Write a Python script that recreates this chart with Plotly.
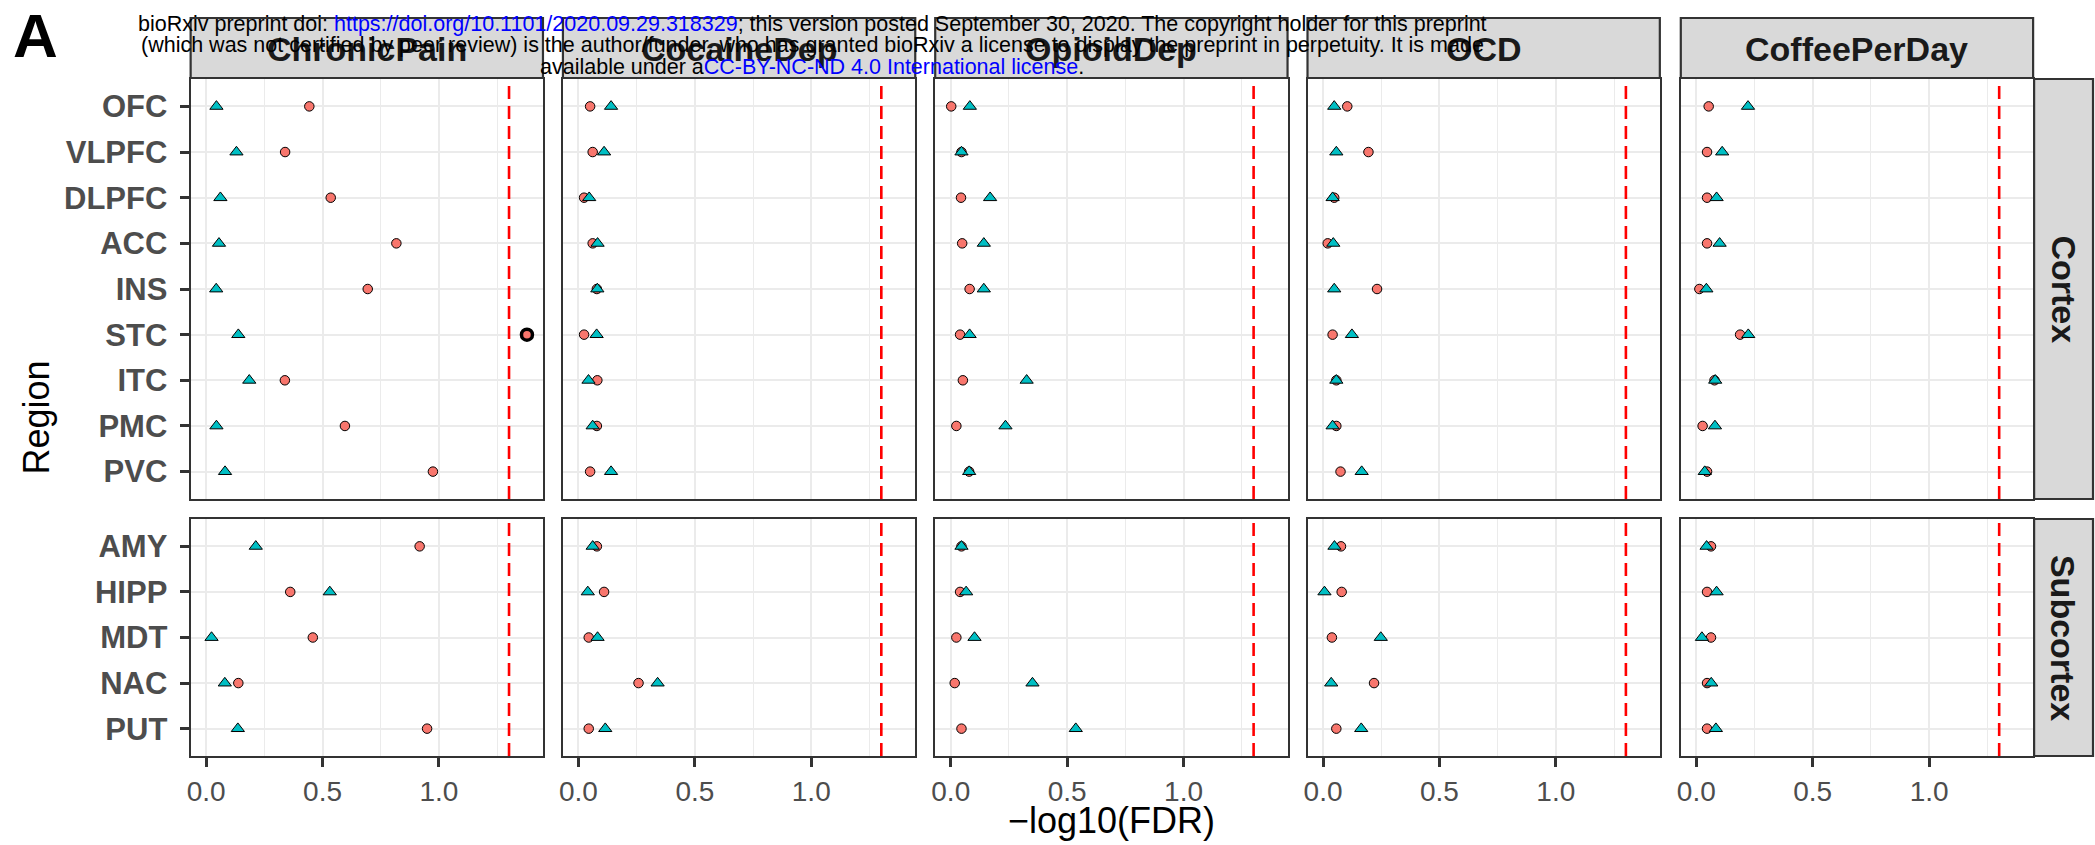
import math
import plotly.graph_objects as go

# ---------------- data ----------------
regions = ["OFC", "VLPFC", "DLPFC", "ACC", "INS", "STC", "ITC", "PMC", "PVC",
           "AMY", "HIPP", "MDT", "NAC", "PUT"]
region_group = ["Cortex", "Cortex", "Cortex", "Cortex", "Cortex", "Cortex", "Cortex",
                "Cortex", "Cortex", "Subcortex", "Subcortex", "Subcortex", "Subcortex",
                "Subcortex"]
groups = ["Cortex", "Subcortex"]
traits = ["ChronicPain", "CocaineDep", "OpioidDep", "OCD", "CoffeePerDay"]

# -log10(FDR), circle series (red) and triangle series (teal), in region order
chronicpain_circle = [0.443, 0.339, 0.535, 0.817, 0.694, 1.378, 0.338, 0.596, 0.974,
                      0.917, 0.361, 0.458, 0.138, 0.949]
chronicpain_triangle = [0.044, 0.130, 0.061, 0.055, 0.043, 0.138, 0.185, 0.044, 0.081,
                        0.213, 0.531, 0.023, 0.080, 0.136]
cocainedep_circle = [0.050, 0.061, 0.024, 0.061, 0.079, 0.024, 0.081, 0.079, 0.050,
                     0.079, 0.110, 0.044, 0.258, 0.044]
cocainedep_triangle = [0.140, 0.110, 0.046, 0.082, 0.081, 0.078, 0.043, 0.061, 0.140,
                       0.061, 0.040, 0.082, 0.340, 0.115]
opioiddep_circle = [0.002, 0.046, 0.044, 0.049, 0.081, 0.040, 0.052, 0.024, 0.079,
                    0.046, 0.040, 0.024, 0.017, 0.046]
opioiddep_triangle = [0.082, 0.046, 0.169, 0.142, 0.142, 0.081, 0.326, 0.235, 0.079,
                      0.046, 0.066, 0.102, 0.351, 0.537]
ocd_circle = [0.104, 0.195, 0.048, 0.020, 0.232, 0.041, 0.057, 0.057, 0.075,
              0.077, 0.080, 0.038, 0.219, 0.057]
ocd_triangle = [0.048, 0.057, 0.041, 0.044, 0.048, 0.124, 0.057, 0.041, 0.166,
                0.049, 0.006, 0.248, 0.035, 0.164]
coffee_circle = [0.053, 0.046, 0.046, 0.046, 0.013, 0.188, 0.078, 0.027, 0.046,
                 0.063, 0.046, 0.063, 0.046, 0.046]
coffee_triangle = [0.222, 0.111, 0.087, 0.100, 0.043, 0.223, 0.081, 0.080, 0.036,
                   0.044, 0.087, 0.024, 0.064, 0.084]

fdr_cutoff = 0.05
x_ticks = [0.0, 0.5, 1.0]
x_label = "\u2212log10(FDR)"
y_label = "Region"

circle_by_trait = dict(zip(traits, [chronicpain_circle, cocainedep_circle, opioiddep_circle,
                                    ocd_circle, coffee_circle]))
triangle_by_trait = dict(zip(traits, [chronicpain_triangle, cocainedep_triangle,
                                      opioiddep_triangle, ocd_triangle, coffee_triangle]))

threshold = -math.log10(fdr_cutoff)

# ---------------- layout geometry (pixels) ----------------
W, H = 2095, 845
col_left = [187, 560, 933, 1306, 1680]
col_w = 353
row_top = [79, 519]
row_bot = [499, 756]
strip_top, strip_bot = 18, 78
rstrip_l, rstrip_r = 2034, 2093

FONT = "Liberation Sans, Arial, Helvetica, sans-serif"
RED = "#F8766D"
TEAL = "#00BFC4"
GRID = "#EBEBEB"
BORDER = "#333333"


def px(x):
    return x / W


def py(y):
    return 1 - y / H


all_vals = [v for t in traits for v in circle_by_trait[t] + triangle_by_trait[t]]
vmin, vmax = min(all_vals), max(all_vals)
span = vmax - vmin
x_range = [vmin - 0.05 * span, vmax + 0.05 * span]

fig = go.Figure()
shapes = []
annotations = []
layout_axes = {}

for r, g in enumerate(groups):
    idx = [i for i, gg in enumerate(region_group) if gg == g]
    cats = [regions[i] for i in idx]
    n = len(cats)
    for c, t in enumerate(traits):
        k = r * len(traits) + c + 1
        xa = "x" if k == 1 else f"x{k}"
        ya = "y" if k == 1 else f"y{k}"
        xkey = "xaxis" if k == 1 else f"xaxis{k}"
        ykey = "yaxis" if k == 1 else f"yaxis{k}"
        bottom = (r == len(groups) - 1)
        first = (c == 0)
        layout_axes[xkey] = dict(
            domain=[px(col_left[c]), px(col_left[c] + col_w)],
            anchor=ya, range=x_range, autorange=False,
            tickvals=x_ticks, ticktext=[f"{v:.1f}" for v in x_ticks],
            showgrid=True, gridcolor=GRID, gridwidth=2.2,
            minor=dict(dtick=0.25, tick0=0, showgrid=True, gridcolor=GRID, gridwidth=1.1),
            showline=True, linecolor=BORDER, linewidth=2.2, mirror=True,
            zeroline=False,
            ticks="outside" if bottom else "", ticklen=9, tickwidth=3, tickcolor=BORDER,
            showticklabels=bottom,
            tickfont=dict(family=FONT, size=28, color="#4D4D4D"),
        )
        layout_axes[ykey] = dict(
            domain=[py(row_bot[r]), py(row_top[r])],
            anchor=xa, type="category",
            categoryorder="array", categoryarray=cats,
            range=[n - 1 + 0.6, -0.6], autorange=False,
            showgrid=True, gridcolor=GRID, gridwidth=2.2,
            showline=True, linecolor=BORDER, linewidth=2.2, mirror=True,
            zeroline=False,
            ticks="outside" if first else "", ticklen=9, tickwidth=3, tickcolor=BORDER,
            showticklabels=first, ticklabelstandoff=6,
            tickfont=dict(family=FONT, size=31, color="#4D4D4D", weight="bold"),
        )
        cv = [circle_by_trait[t][i] for i in idx]
        tv = [triangle_by_trait[t][i] for i in idx]
        sig = [v > threshold for v in cv]
        fig.add_trace(go.Scatter(
            x=[v for v, s in zip(cv, sig) if not s], y=[y for y, s in zip(cats, sig) if not s],
            xaxis=xa, yaxis=ya, mode="markers", showlegend=False, cliponaxis=False,
            marker=dict(symbol="circle", size=9.5, color=RED, line=dict(color="black", width=1)),
        ))
        fig.add_trace(go.Scatter(
            x=tv, y=cats, xaxis=xa, yaxis=ya, mode="markers", showlegend=False,
            cliponaxis=False,
            marker=dict(symbol="triangle-up", size=11.5, color=TEAL,
                        line=dict(color="black", width=1)),
        ))
        if any(sig):
            fig.add_trace(go.Scatter(
                x=[v for v, s in zip(cv, sig) if s], y=[y for y, s in zip(cats, sig) if s],
                xaxis=xa, yaxis=ya, mode="markers", showlegend=False, cliponaxis=False,
                marker=dict(symbol="circle", size=11, color=RED,
                            line=dict(color="black", width=3.5)),
            ))
        shapes.append(dict(
            type="line", xref=xa, yref=f"{ya} domain", x0=threshold, x1=threshold, y0=0, y1=1,
            line=dict(color="#FF0000", width=2.6, dash="13px,7px"), layer="above",
        ))

# top strips
for c, t in enumerate(traits):
    shapes.append(dict(type="rect", xref="paper", yref="paper",
                       x0=px(col_left[c]), x1=px(col_left[c] + col_w),
                       y0=py(strip_bot), y1=py(strip_top),
                       fillcolor="#D9D9D9", line=dict(color=BORDER, width=2.2), layer="below"))
    annotations.append(dict(xref="paper", yref="paper",
                            x=px(col_left[c] + col_w / 2), y=py((strip_top + strip_bot) / 2 + 1),
                            text=f"<b>{t}</b>", showarrow=False,
                            font=dict(family=FONT, size=34, color="#1A1A1A"),
                            xanchor="center", yanchor="middle"))
# right strips
for r, g in enumerate(groups):
    shapes.append(dict(type="rect", xref="paper", yref="paper",
                       x0=px(rstrip_l), x1=px(rstrip_r),
                       y0=py(row_bot[r]), y1=py(row_top[r]),
                       fillcolor="#D9D9D9", line=dict(color=BORDER, width=2.2), layer="below"))
    annotations.append(dict(xref="paper", yref="paper",
                            x=px((rstrip_l + rstrip_r) / 2), y=py((row_top[r] + row_bot[r]) / 2),
                            text=f"<b>{g}</b>", showarrow=False, textangle=90,
                            font=dict(family=FONT, size=34, color="#1A1A1A"),
                            xanchor="center", yanchor="middle"))

# axis titles
annotations.append(dict(xref="paper", yref="paper",
                        x=px((col_left[0] + col_left[-1] + col_w) / 2), y=py(820),
                        text=x_label, showarrow=False,
                        font=dict(family=FONT, size=36, color="black"),
                        xanchor="center", yanchor="middle"))
annotations.append(dict(xref="paper", yref="paper",
                        x=px(33), y=py((row_top[0] + row_bot[1]) / 2),
                        text=y_label, showarrow=False, textangle=-90,
                        font=dict(family=FONT, size=36, color="black"),
                        xanchor="center", yanchor="middle"))
# panel tag
annotations.append(dict(xref="paper", yref="paper", x=px(7), y=py(36),
                        text="<b>A</b>", showarrow=False,
                        font=dict(family=FONT, size=62, color="black"),
                        xanchor="left", yanchor="middle"))

# bioRxiv watermark
wm_lines = [
    'bioRxiv preprint doi: <span style="color:#0000FF">https://doi.org/10.1101/2020.09.29.318329</span>; '
    'this version posted September 30, 2020. The copyright holder for this preprint',
    '(which was not certified by peer review) is the author/funder, who has granted bioRxiv a '
    'license to display the preprint in perpetuity. It is made',
    'available under a<span style="color:#0000FF">CC-BY-NC-ND 4.0 International license</span>.',
]
wm_y = [24, 45, 67]
for line, yy in zip(wm_lines, wm_y):
    annotations.append(dict(xref="paper", yref="paper", x=px(810), y=py(yy),
                            text=line, showarrow=False,
                            font=dict(family=FONT, size=21.5, color="black"),
                            xanchor="center", yanchor="middle"))

fig.update_layout(
    width=W, height=H, margin=dict(l=0, r=0, t=0, b=0),
    paper_bgcolor="white", plot_bgcolor="white",
    shapes=shapes, annotations=annotations, showlegend=False,
    **layout_axes,
)

fig.write_html("out.html", config={"displayModeBar": False},
               post_script="document.body.style.margin='0px';")
